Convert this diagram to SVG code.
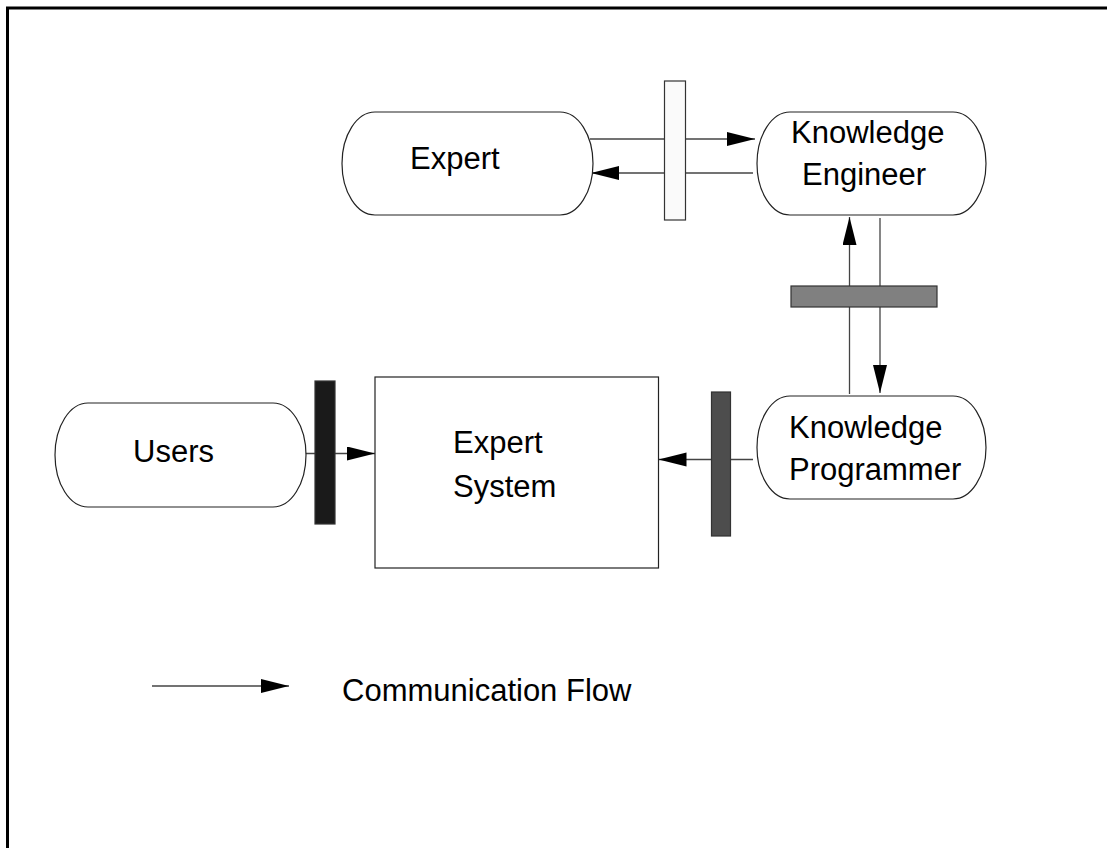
<svg xmlns="http://www.w3.org/2000/svg" width="1107" height="848" viewBox="0 0 1107 848">
<style>
.node{fill:#fff;stroke:#222;stroke-width:1.2}
.lbl{font-family:"Liberation Sans",Arial,sans-serif;font-size:31px;fill:#000}
.flow{stroke:#444;stroke-width:1.3;fill:none}
.bar{stroke:#333;stroke-width:1.2}
</style>
<defs>
<marker id="ah" markerUnits="userSpaceOnUse" markerWidth="29" markerHeight="15" refX="28" refY="7" orient="auto">
<path d="M0,0 L28,7 L0,14 z" fill="#000"/>
</marker>
</defs>
<g id="frame">
<path d="M7.5,848 L7.5,8 L1107,8" fill="none" stroke="#000" stroke-width="3"/>
</g>
<g id="connectors">
<line class="flow" x1="590" y1="139" x2="755" y2="139" marker-end="url(#ah)"/>
<line class="flow" x1="753" y1="173" x2="591" y2="173" marker-end="url(#ah)"/>
<line class="flow" x1="849.5" y1="394" x2="849.5" y2="217" marker-end="url(#ah)"/>
<line class="flow" x1="880" y1="218" x2="880" y2="393" marker-end="url(#ah)"/>
<line class="flow" x1="305" y1="453.5" x2="375" y2="453.5" marker-end="url(#ah)"/>
<line class="flow" x1="753" y1="459.5" x2="658.5" y2="459.5" marker-end="url(#ah)"/>
</g>
<g id="bar-expert-ke"><rect class="bar" x="664.5" y="81" width="21" height="139" fill="#fafafa"/></g>
<g id="bar-ke-kp"><rect class="bar" x="791" y="286" width="146" height="21" fill="#808080"/></g>
<g id="bar-users"><rect class="bar" x="315" y="381" width="20" height="143" fill="#1a1a1a"/></g>
<g id="bar-kp"><rect class="bar" x="711.5" y="392" width="19" height="144" fill="#4d4d4d"/></g>
<g id="expert">
<rect class="node" x="342" y="112" width="251" height="103" rx="33" ry="51.5"/>
<text class="lbl" x="410" y="169">Expert</text>
</g>
<g id="knowledge-engineer">
<rect class="node" x="757" y="112" width="229" height="103" rx="33" ry="51.5"/>
<text class="lbl" x="791" y="143">Knowledge</text>
<text class="lbl" x="802" y="185">Engineer</text>
</g>
<g id="knowledge-programmer">
<rect class="node" x="757" y="396" width="229" height="103" rx="33" ry="51.5"/>
<text class="lbl" x="789" y="438">Knowledge</text>
<text class="lbl" x="789" y="480">Programmer</text>
</g>
<g id="users">
<rect class="node" x="55" y="403" width="251" height="104" rx="33" ry="52"/>
<text class="lbl" x="133" y="462">Users</text>
</g>
<g id="expert-system">
<rect class="node" x="375" y="377" width="283.5" height="191"/>
<text class="lbl" x="453" y="453">Expert</text>
<text class="lbl" x="453" y="497">System</text>
</g>
<g id="legend">
<line class="flow" x1="152" y1="686" x2="289" y2="686" marker-end="url(#ah)"/>
<text class="lbl" x="342" y="701">Communication Flow</text>
</g>
</svg>
